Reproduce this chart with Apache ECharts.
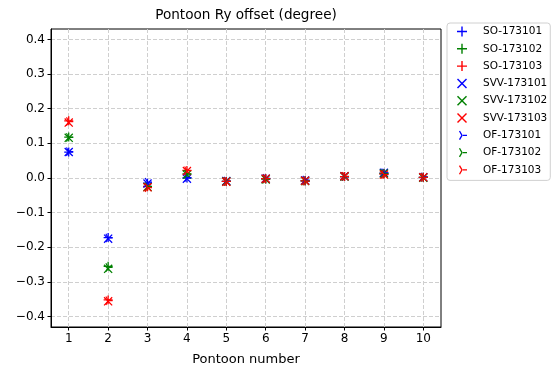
<!DOCTYPE html>
<html>
<head>
<meta charset="utf-8">
<script src="https://cdn.jsdelivr.net/npm/echarts@6/dist/echarts.min.js"></script>
<style>html,body{margin:0;padding:0;background:#fff;}#c{width:552px;height:376px;}</style>
</head>
<body>
<div id="c"></div>
<script>
const pontoons = [1, 2, 3, 4, 5, 6, 7, 8, 9, 10];
const xTicks = [1, 2, 3, 4, 5, 6, 7, 8, 9, 10];
const yTicks = [-0.4, -0.3, -0.2, -0.1, 0.0, 0.1, 0.2, 0.3, 0.4];

const SO_173101  = [0.075, -0.172, -0.015, 0.000, -0.010, -0.002, -0.008, 0.004, 0.014, 0.002];
const SO_173102  = [0.118, -0.255, -0.024, 0.012, -0.010, -0.003, -0.008, 0.004, 0.013, 0.002];
const SO_173103  = [0.165, -0.352, -0.025, 0.022, -0.010, -0.002, -0.008, 0.004, 0.011, 0.002];
const SVV_173101 = [0.075, -0.175, -0.016, -0.002, -0.009, -0.002, -0.007, 0.005, 0.015, 0.002];
const SVV_173102 = [0.116, -0.262, -0.026, 0.010, -0.010, -0.004, -0.009, 0.004, 0.013, 0.001];
const SVV_173103 = [0.160, -0.356, -0.027, 0.020, -0.011, -0.002, -0.008, 0.005, 0.010, 0.002];
const OF_173101  = [0.076, -0.173, -0.012, 0.001, -0.009, -0.001, -0.006, 0.004, 0.015, 0.003];
const OF_173102  = [0.117, -0.258, -0.025, 0.011, -0.010, -0.003, -0.009, 0.004, 0.012, 0.002];
const OF_173103  = [0.163, -0.354, -0.028, 0.021, -0.010, -0.002, -0.009, 0.005, 0.010, 0.002];

const seriesNames = ['SO-173101','SO-173102','SO-173103','SVV-173101','SVV-173102','SVV-173103','OF-173101','OF-173102','OF-173103'];
const seriesValues = [SO_173101, SO_173102, SO_173103, SVV_173101, SVV_173102, SVV_173103, OF_173101, OF_173102, OF_173103];
const colors = ['#0000ff', '#008000', '#ff0000'];

const PLUS = 'path://M0,4.3H10V5.7H0Z M4.3,0H5.7V10H4.3Z';
const CROSS = 'path://M1,0L5,4L9,0L10,1L6,5L10,9L9,10L5,6L1,10L0,9L4,5L0,1Z';
const TRI = 'path://M0,5L0.01,5L0,5.01Z M5,4.35H10V5.65H5Z M5.56,4.68L3.06,0.35L1.94,1L4.44,5.33Z M4.44,4.68L1.94,9L3.06,9.65L5.56,5.33Z';
const symbols = [PLUS, CROSS, TRI];

const fmt = v => (Math.abs(v) < 1e-9 ? '0.0' : v.toFixed(1).replace('-', '\u2212'));

const series = seriesNames.map((name, i) => ({
  name: name,
  type: 'scatter',
  symbol: symbols[Math.floor(i / 3)],
  symbolSize: 9,
  itemStyle: { color: colors[i % 3], opacity: 1 },
  emphasis: { disabled: true },
  data: pontoons.map((p, j) => [p, seriesValues[i][j]])
}));

const chart = echarts.init(document.getElementById('c'), null, { renderer: 'canvas' });
const font = 'DejaVu Sans';
chart.setOption({
  animation: false,
  backgroundColor: '#ffffff',
  textStyle: { fontFamily: font },
  graphic: [{
    type: 'text', x: 246, y: 15,
    style: { text: 'Pontoon Ry offset (degree)', fill: '#000', font: '13.6px "DejaVu Sans"', align: 'center', verticalAlign: 'middle' }
  }],
  grid: { left: 51, top: 29, right: 111, bottom: 49, show: true, borderColor: '#000', borderWidth: 1, backgroundColor: 'transparent' },
  legend: {
    orient: 'vertical', left: 447, top: 23,
    padding: [3, 3, 5, 10],
    itemGap: 6.3, itemWidth: 10, itemHeight: 10,
    backgroundColor: '#fff', borderColor: '#d0d0d0', borderWidth: 1, borderRadius: 3,
    textStyle: { fontFamily: font, fontSize: 10.5, color: '#000', rich: { a: { fontFamily: font, fontSize: 10.5, color: '#000', padding: [0, 0, 0, 11] } } },
    formatter: name => '{a|' + name + '}',
    selectedMode: false,
    data: seriesNames
  },
  xAxis: {
    type: 'value', min: 0.55, max: 10.45,
    name: 'Pontoon number', nameLocation: 'middle', nameGap: 26,
    nameTextStyle: { fontFamily: font, fontSize: 13, color: '#000' },
    axisLine: { show: true, onZero: false, lineStyle: { color: '#000', width: 1 } },
    axisTick: { show: true, inside: false, length: 3.5, lineStyle: { color: '#000' }, customValues: xTicks },
    axisLabel: { fontFamily: font, fontSize: 12, color: '#000', margin: 6, customValues: xTicks, formatter: v => String(v) },
    splitLine: { show: true, lineStyle: { color: '#cfcfcf', type: [4, 2], width: 1 } }
  },
  yAxis: {
    type: 'value', min: -0.43, max: 0.43,
    axisLine: { show: true, onZero: false, lineStyle: { color: '#000', width: 1 } },
    axisTick: { show: true, inside: false, length: 3.5, lineStyle: { color: '#000' }, customValues: yTicks },
    axisLabel: { fontFamily: font, fontSize: 12, color: '#000', margin: 6, customValues: yTicks, formatter: fmt },
    splitLine: { show: true, lineStyle: { color: '#cfcfcf', type: [4, 2], width: 1 } }
  },
  series: series
});
</script>
</body>
</html>
